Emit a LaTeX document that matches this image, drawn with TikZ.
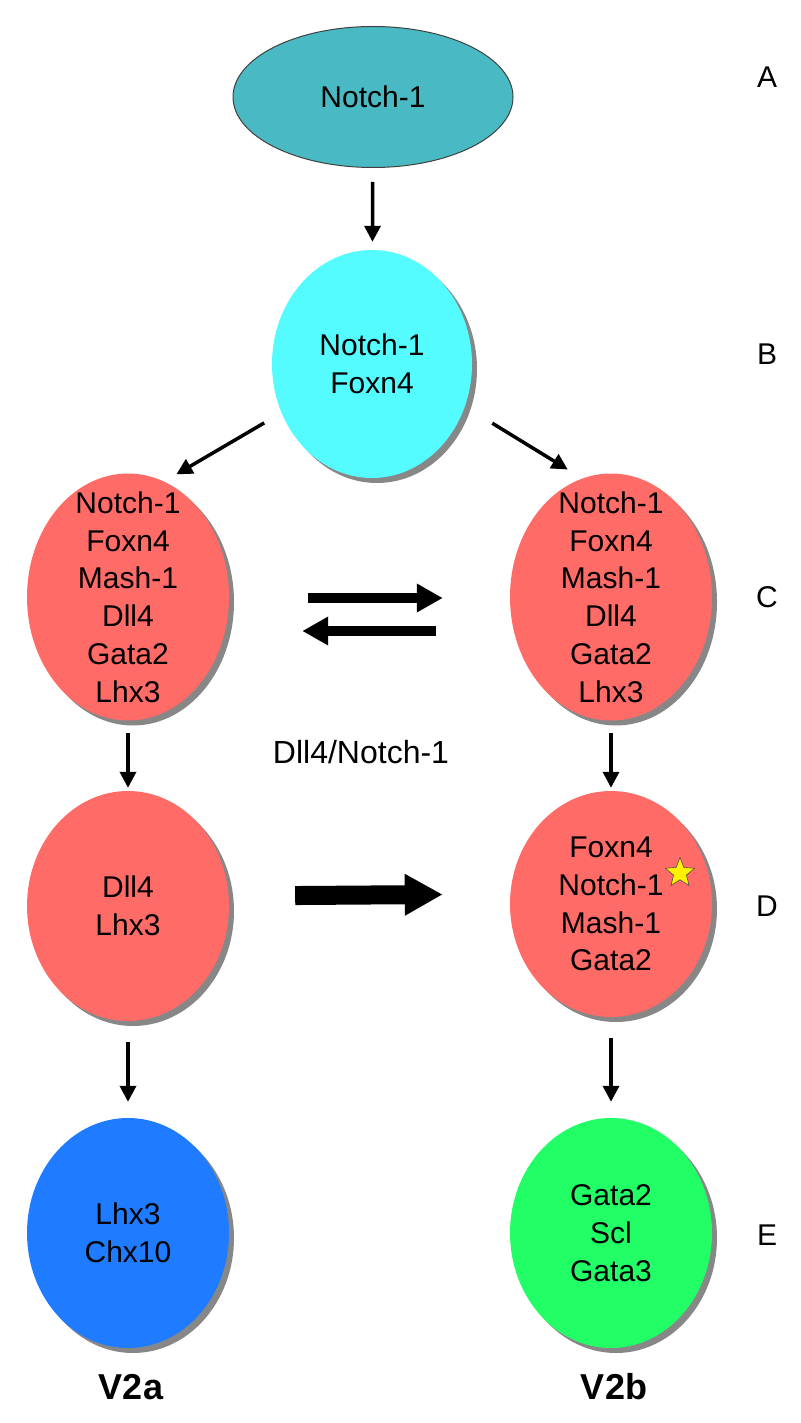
\documentclass[tikz,border=0pt]{standalone}
\usepackage{fontspec}
\setmainfont{Liberation Sans}
\usetikzlibrary{arrows.meta,shapes.geometric,shadows}

\definecolor{tealcell}{HTML}{49BAC3}
\definecolor{cyancell}{HTML}{55FCFF}
\definecolor{redcell}{HTML}{FF6B66}
\definecolor{bluecell}{HTML}{1F7BFF}
\definecolor{greencell}{HTML}{22FF66}

\begin{document}
\begin{tikzpicture}[x=1pt, y=-1pt,
           > = {Triangle[length=16pt, width=16pt]},
 plain/.style = {ellipse, inner sep=-30pt, align=center,
                 minimum width=202pt,
                 font=\fontsize{30}{37.8}\selectfont},% cells
  cell/.style = {plain, drop shadow={shadow xshift=5pt, shadow yshift=-5pt,
                              fill=black!47, opacity=1}},% shadowed cells
   arr/.style = {->, line width=3.5pt},% thin arrows
  side/.style = {font=\fontsize{30}{36}\selectfont},% row letters
  type/.style = {font=\bfseries\fontsize{36}{40}\selectfont},% V2a, V2b
]
\useasboundingbox (0,0) rectangle (800,1423);
% cells
\node[plain, fill=tealcell, draw=black!75, line width=1pt,
      minimum width=280pt, minimum height=141pt] (a) at (373,97) {Notch-1};
\node[cell, fill=cyancell, minimum width=200pt, minimum height=228pt]
      (b) at (372,364) {Notch-1\\Foxn4};
\node[cell, fill=redcell, minimum height=247pt] (c1) at (128,597)
      {Notch-1\\Foxn4\\Mash-1\\Dll4\\Gata2\\Lhx3};
\node[cell, fill=redcell, minimum height=247pt] (c2) at (611,597)
      {Notch-1\\Foxn4\\Mash-1\\Dll4\\Gata2\\Lhx3};
\node[cell, fill=redcell, minimum height=230pt] (d1) at (128,906) {Dll4\\Lhx3};
\node[cell, fill=redcell, minimum height=226pt] (d2) at (611,904)
      {Foxn4\\Notch-1\\Mash-1\\Gata2};
\node[cell, fill=bluecell, minimum height=230pt] (e1) at (128,1233) {Lhx3\\Chx10};
\node[cell, fill=greencell, minimum height=230pt] (e2) at (611,1233)
      {Gata2\\Scl\\Gata3};
\node[star, star points=5, star point ratio=2.3, minimum size=31pt, inner sep=0pt,
      fill=yellow, draw=black!70, line width=0.6pt] (hl) at (680,873) {};
% texts
\node[side, font=\fontsize{32}{36}\selectfont] (sig) at (361,752) {Dll4/Notch-1};
\foreach \row/\lbl in {77/A, 354/B, 597/C, 906/D, 1235/E}
  \node[side] (l\lbl) at (767,\row) {\lbl};
\node[type] (v2a) at (131,1387) {V2a};
\node[type] (v2b) at (614,1387) {V2b};
% thin arrows
\draw[arr, shorten <=14pt, shorten >=8pt] (a) -- (b);
\draw[arr, shorten <=26pt, shorten >=0pt] ([yshift=14pt]b.215) -- ([yshift=14pt]c1.66);
\draw[arr, shorten <=41pt, shorten >=-6pt] ([yshift=22pt]b.325) -- ([yshift=22pt]c2.114);
\foreach \i in {1,2}
{
\draw[arr, shorten <=12pt, shorten >=3pt] (c\i) -- (d\i);
\draw[arr, shorten <=21pt, shorten >=16pt] (d\i) -- (e\i);
}
% reversible exchange
\draw[-{Triangle[length=26pt, width=27pt]}, line width=10pt,
      shorten <=79pt, shorten >=67pt] ([yshift=-1pt]c1.east) -- ([yshift=-1pt]c2.west);
\draw[-{Triangle[length=26pt, width=27pt]}, line width=10pt,
      shorten <=74pt, shorten >=73pt] ([yshift=-34pt]c2.west) -- ([yshift=-34pt]c1.east);
% Dll4/Notch-1 signalling
\draw[-{Triangle[length=38pt, width=39pt]}, line width=19pt,
      shorten <=66pt, shorten >=67pt] ([yshift=10pt]d1.east) -- ([yshift=10pt]d2.west);
\end{tikzpicture}
\end{document}
